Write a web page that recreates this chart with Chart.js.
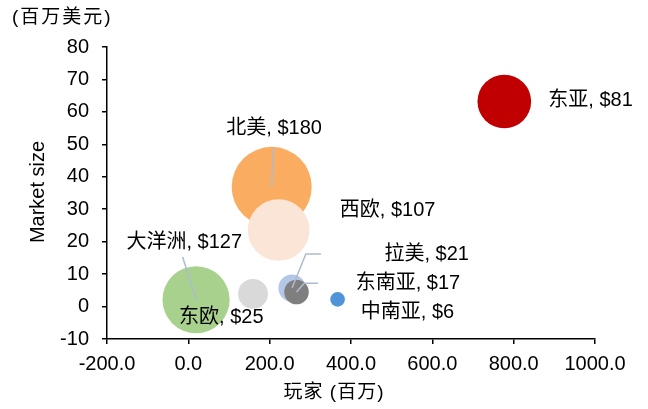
<!DOCTYPE html>
<html>
<head>
<meta charset="utf-8">
<script src="https://cdn.jsdelivr.net/npm/chart.js@4/dist/chart.umd.min.js"></script>
<style>
  html, body { margin: 0; padding: 0; background: #fff; }
  canvas { display: block; }
</style>
</head>
<body>
<canvas id="bubbleChart" width="648" height="409"></canvas>
<script>
// 各地区: 玩家数量(百万) vs 市场规模, 气泡面积 = 收入(百万美元)
const regions = ['东亚', '北美', '西欧', '大洋洲', '东欧', '拉美', '东南亚', '中南亚'];
const players = [777, 205, 222, 19, 159, 255, 266, 367];
const marketSize = [63.2, 36.9, 23.6, 2.1, 3.9, 5.7, 4.5, 2.2];
const revenue = [81, 180, 107, 127, 25, 21, 17, 6];
const xTicks = [-200, 0, 200, 400, 600, 800, 1000];
const yTicks = [-10, 0, 10, 20, 30, 40, 50, 60, 70, 80];

const bubbleColors = ['#C00000', '#FAAD61', '#FBE5D6', '#A9D18E', '#D9D9D9', '#B4C7E7', '#7F7F7F', '#4F94D8'];

// 标签位置 (数据坐标), 与 regions 顺序一致
const labelPos = [[989, 63.4], [211, 54.8], [490, 29.5], [-10, 19.7], [81, -3.4], [586, 16.2], [540, 7.2], [539, -1.85]];
// 引导线折点 (数据坐标), 末端连到气泡中心
const leaders = { 1: [[209, 48.9]], 3: [[-14, 15.3]], 5: [[326, 16.2], [289, 16.2]], 6: [[319, 7.15], [285, 7.15]] };

const FONT = '"Liberation Sans", Arial, "Noto Sans CJK SC", sans-serif';
const maxRadius = 40;
const maxRevenue = Math.max(...revenue);

const labelPlugin = {
  id: 'regionLabels',
  afterDatasetsDraw(chart) {
    const { ctx, scales: { x, y } } = chart;
    ctx.save();
    // 引导线
    ctx.strokeStyle = '#ADBBCF';
    ctx.lineWidth = 1.5;
    Object.keys(leaders).forEach(k => {
      const i = +k;
      const pts = leaders[i].concat([[players[i], marketSize[i]]]);
      ctx.beginPath();
      pts.forEach((p, j) => {
        const px = x.getPixelForValue(p[0]);
        const py = y.getPixelForValue(p[1]);
        if (j === 0) ctx.moveTo(px, py); else ctx.lineTo(px, py);
      });
      ctx.stroke();
    });
    // 数据标签
    ctx.fillStyle = '#000';
    ctx.font = '20px ' + FONT;
    ctx.textAlign = 'center';
    ctx.textBaseline = 'middle';
    regions.forEach((name, i) => {
      const px = x.getPixelForValue(labelPos[i][0]);
      const py = y.getPixelForValue(labelPos[i][1]);
      ctx.fillText(`${name}, $${revenue[i]}`, px, py);
    });
    ctx.restore();
  },
  afterDraw(chart) {
    const { ctx } = chart;
    ctx.save();
    ctx.fillStyle = '#000';
    ctx.font = '19px ' + FONT;
    ctx.textBaseline = 'middle';
    ctx.textAlign = 'left';
    ctx.letterSpacing = '2px';
    ctx.fillText('(百万美元)', 12, 18);
    ctx.textAlign = 'center';
    ctx.letterSpacing = '1px';
    ctx.fillText('玩家 (百万)', 334, 393);
    ctx.letterSpacing = '0px';
    ctx.font = '20px ' + FONT;
    ctx.translate(38, 192);
    ctx.rotate(-Math.PI / 2);
    ctx.fillText('Market size', 0, 0);
    ctx.restore();
  }
};

const ctx = document.getElementById('bubbleChart').getContext('2d');
new Chart(ctx, {
  type: 'bubble',
  data: {
    datasets: [{
      data: regions.map((_, i) => ({ x: players[i], y: marketSize[i], r: maxRadius * Math.sqrt(revenue[i] / maxRevenue) })),
      backgroundColor: bubbleColors,
      borderWidth: 0,
      hoverBorderWidth: 0,
      clip: false
    }]
  },
  options: {
    responsive: false,
    animation: false,
    events: [],
    layout: { padding: { top: 47, right: 53, left: 0, bottom: 0 } },
    plugins: { legend: { display: false }, tooltip: { enabled: false } },
    scales: {
      x: {
        type: 'linear',
        min: xTicks[0],
        max: xTicks[xTicks.length - 1],
        afterBuildTicks: s => { s.ticks = xTicks.map(v => ({ value: v })); },
        afterFit: s => { s.height = 70; },
        grid: { drawOnChartArea: false, tickLength: 5, color: '#000', lineWidth: 1.5 },
        border: { color: '#000', width: 1.5 },
        ticks: { color: '#000', padding: 8, maxRotation: 0, font: { family: FONT, size: 20 }, callback: v => v.toFixed(1) }
      },
      y: {
        type: 'linear',
        min: yTicks[0],
        max: yTicks[yTicks.length - 1],
        afterBuildTicks: s => { s.ticks = yTicks.map(v => ({ value: v })); },
        afterFit: s => { s.width = 107; },
        grid: { drawOnChartArea: false, tickLength: 5, color: '#000', lineWidth: 1.5 },
        border: { color: '#000', width: 1.5 },
        ticks: { color: '#000', padding: 13, font: { family: FONT, size: 20 } }
      }
    }
  },
  plugins: [labelPlugin]
});
</script>
</body>
</html>
